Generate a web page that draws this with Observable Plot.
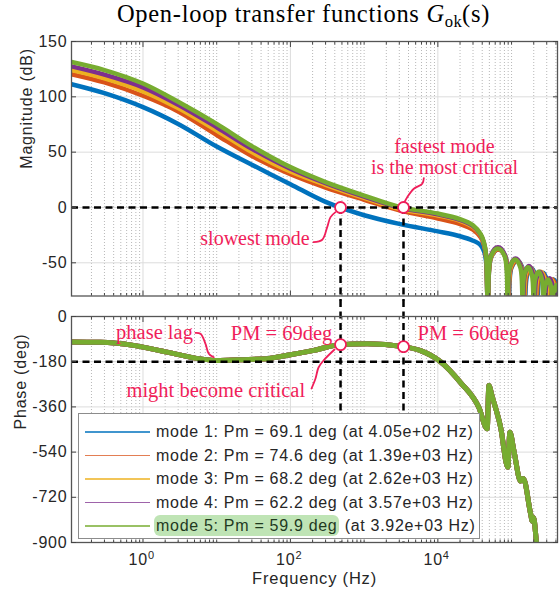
<!DOCTYPE html>
<html>
<head>
<meta charset="utf-8">
<script src="https://cdn.jsdelivr.net/npm/d3@7"></script>
<script src="https://cdn.jsdelivr.net/npm/@observablehq/plot@0.6"></script>
<style>
html,body{margin:0;padding:0;background:#fff;}
#wrap{position:relative;width:559px;height:597px;overflow:hidden;background:#fff;}
#title{position:absolute;top:0;left:303.5px;transform:translateX(-50%);white-space:nowrap;font-family:"Liberation Serif","Times New Roman",serif;font-size:24.5px;letter-spacing:0.7px;line-height:28px;color:#000;}
#title sub{font-size:0.68em;vertical-align:-0.28em;line-height:0;letter-spacing:0.3px;}
#top{position:absolute;top:30px;left:0;}
#bot{position:absolute;top:300px;left:0;}
svg text{letter-spacing:0.8px;}
svg g[font-family*="Serif"] text{letter-spacing:0;}
#legend{position:absolute;left:78px;top:413px;width:402px;height:126px;box-sizing:border-box;border:1px solid #8c8c8c;background:#fff;padding-top:6px;font-family:"Liberation Sans",Arial,sans-serif;font-size:16px;letter-spacing:0.7px;color:#262626;}
#legend .row{height:23.6px;line-height:23.6px;white-space:nowrap;position:relative;}
#legend .sw{position:absolute;left:6px;top:11px;width:65px;height:1.6px;opacity:0.75;}
#legend .lab{position:absolute;left:77px;top:0;}
#legend .hl{background:#bfe4b5;border-radius:6px;padding:2px 2px 2px 2px;margin-left:-2px;color:#1f3a1f;}
</style>
</head>
<body>
<div id="wrap">
  <div id="title">Open-loop transfer functions <i>G</i><sub>ok</sub>(s)</div>
  <div id="top"></div>
  <div id="bot"></div>
</div>
<script>
// ---------- axis configuration ----------
const xDomain = [0.1072, 420000];
const majorX = [1, 100, 10000];
const xLabelPowers = [0, 2, 4];
const magTicks = [-50, 0, 50, 100, 150];
const phaseTicks = [-900, -720, -540, -360, -180, 0];

// ---------- modes / legend ----------
const modeNames = ["mode 1", "mode 2", "mode 3", "mode 4", "mode 5"];
const modeColors = ["#0072BD", "#D95319", "#EDB120", "#7E2F8E", "#77AC30"];
const pmValues = [69.1, 74.6, 68.2, 62.2, 59.9];
const pmFreqLabels = ["4.05e+02", "1.39e+03", "2.62e+03", "3.57e+03", "3.92e+03"];

// ---------- magnitude (dB), main part ----------
const magFreq = [0.1072, 0.3, 1, 3, 10, 30, 100, 300, 1000, 3000, 10000, 20000, 30000, 38000, 42000, 45000, 47970];
const mag1 = [111.4, 103.3, 90.7, 75.5, 55.1, 38.6, 21, 5.0, -7.0, -14.8, -21.6, -26, -30, -34, -39, -48, -100];
const mag2 = [120.4, 113, 101, 86.8, 65.5, 46.5, 30, 18, 7, -2.5, -10, -15, -20, -27, -33.5, -44, -100];
const mag3 = [124.2, 116.8, 105, 89.8, 69.5, 50, 32.5, 20.5, 8.7, -1.2, -7.2, -12, -17.5, -25, -32, -43, -100];
const mag4 = [127.5, 120, 108.5, 92.8, 72.5, 53, 35, 22, 9.8, 0, -6.2, -11.2, -16.7, -24.5, -31.5, -42.5, -100];
const mag5 = [131.5, 124.2, 112, 95.5, 75.5, 55.5, 36.5, 23, 10.8, 0.6, -5.5, -10.5, -16, -24, -31, -42, -100];

// ---------- magnitude (dB), high-frequency lobes ----------
const lobeFreq1 = [52890, 66390, 83310, 91840, 99100, 118320, 141260, 152430, 161480, 184750, 211410, 223930, 236010, 266780, 301590, 317790, 333420, 372980, 417250, 437710];
const lobeMag1 = [-45, -38, -45, -100, -55, -48, -55, -100, -62, -55, -62, -100, -66, -59, -66, -100, -72, -65, -72, -100];
const lobeFreq2 = [52820, 66080, 82660, 90990, 98060, 116690, 138850, 149630, 158290, 180500, 205880, 217780, 229230, 258250, 291000, 306200, 320840, 357720, 398820, 417850, 435100];
const lobeMag2 = [-45, -38, -45, -100, -55, -48, -55, -100, -62, -55, -62, -100, -66, -59, -66, -100, -72, -65, -72, -100, -77];
const lobeFreq3 = [52740, 65780, 82010, 90150, 97000, 115070, 136490, 146880, 155160, 176380, 200530, 211810, 222600, 249990, 280800, 295060, 308690, 343090, 381300, 398930, 414810, 454370];
const lobeMag3 = [-44, -37, -44, -100, -54, -47, -54, -100, -61, -54, -61, -100, -65, -58, -65, -100, -72, -65, -72, -100, -77, -70];
const lobeFreq4 = [52660, 65440, 81290, 89230, 95870, 113300, 133910, 143880, 151760, 171880, 194700, 205340, 215480, 241130, 269850, 283130, 295770, 327520, 362680, 378890, 393340, 429280];
const lobeMag4 = [-43, -36, -43, -100, -53, -46, -53, -100, -60, -53, -60, -100, -65, -58, -65, -100, -71, -64, -71, -100, -76, -69];
const lobeFreq5 = [52580, 65100, 80580, 88310, 94730, 111560, 131370, 140930, 148420, 167490, 189050, 199070, 208580, 232550, 259300, 271640, 283330, 312610, 344910, 359750, 372900, 405510, 440960];
const lobeMag5 = [-44, -37, -44, -100, -54, -47, -54, -100, -61, -54, -61, -100, -65, -58, -65, -100, -72, -65, -72, -100, -77, -70, -77];

// ---------- phase (deg), common to all modes ----------
const phaseFreq = [0.1072, 0.265, 0.743, 2.136, 6.03, 10.16, 21.0, 48.4, 71, 207.7, 478.6, 1101, 3393, 5821, 10880, 20320, 35980, 46780, 49200, 54710, 70920, 89130, 94840, 107500, 132500, 144100, 181200, 191000, 199000, 218400, 300000];
const phaseDeg = [-102, -103, -115, -142, -169, -175, -172, -168, -160, -135, -112, -109, -120, -136, -180, -263, -362, -447, -275, -320, -440, -600, -461, -534, -655, -645, -785, -815, -800, -905, -1100];

// ---------- annotations ----------
const annColor = "#f01e5a";
const crossFreq = [478.6, 3420];
const crossPhase = [-112, -120];
const annTopText = ["slowest mode", "fastest mode", "is the most critical"];
const annTopF = [33.1, 12300, 12300];
const annTopV = [-28.0, 55.3, 36.4];
const annBotText = ["phase lag", "PM = 69deg", "PM = 60deg", "might become critical"];
const annBotF = [1.432, 75.7, 25850, 9.72];
const annBotV = [-62.5, -67.7, -67.7, -294.7];
const linkSlowF = [205.8, 270.1, 315.7, 350.0, 409.2];
const linkSlowV = [-31.4, -29.2, -17.8, -8.7, -4.2];
const linkFastF = [6457, 6143, 4725, 3843, 3565];
const linkFastV = [26.6, 21.4, 16.9, 9.3, 5.4];
const linkLagF = [5.156, 6.028, 7.047, 7.813, 9.135];
const linkLagV = [-64.9, -68.9, -108.7, -148.5, -162.1];
const linkCritF = [193.3, 219.0, 240.6, 281.2, 396.7];
const linkCritV = [-286.7, -246.9, -203.1, -175.2, -131.4];

// ---------- build tables ----------
const mags = [mag1, mag2, mag3, mag4, mag5];
const lobeFs = [lobeFreq1, lobeFreq2, lobeFreq3, lobeFreq4, lobeFreq5];
const lobeMs = [lobeMag1, lobeMag2, lobeMag3, lobeMag4, lobeMag5];
const magData = mags.map((m, i) =>
  magFreq.map((f, j) => ({f, v: m[j]})).concat(lobeFs[i].map((f, j) => ({f, v: lobeMs[i][j]}))));
const phaseData = phaseFreq.map((f, j) => ({f, v: phaseDeg[j]}));
const pts = (F, V) => F.map((f, i) => ({f, v: V[i]}));

const minorX = [];
for (let k = -1; k <= 5; k++) for (let m = 1; m <= 9; m++) {
  const v = m * 10 ** k;
  if (v >= xDomain[0] && v <= xDomain[1] && !majorX.includes(v)) minorX.push(v);
}

const sansFont = "Liberation Sans, Arial, sans-serif";
const serifFont = "Liberation Serif, Times New Roman, serif";
const dash = {stroke: "#000", strokeWidth: 2.5, strokeDasharray: "7,4.5"};
const tickStroke = "#444";
const baseStyle = {fontFamily: sansFont, fontSize: "16px", color: "#262626", background: "transparent", overflow: "visible"};

function frameMarks(yTicks) {
  return [
    Plot.frame({stroke: "#555", strokeWidth: 1.3}),
    Plot.axisY(yTicks, {anchor: "left", tickSize: 0, tickPadding: 4, label: null, tickFormat: d => String(d)}),
    Plot.axisY(yTicks, {anchor: "left", tickSize: 5, dx: 5, tickFormat: () => "", label: null, stroke: tickStroke}),
    Plot.axisY(yTicks, {anchor: "right", tickSize: 5, dx: -5, tickFormat: () => "", label: null, stroke: tickStroke}),
    Plot.axisX(majorX, {anchor: "bottom", tickSize: 5, dy: -5, tickFormat: () => "", label: null, stroke: tickStroke}),
    Plot.axisX(majorX, {anchor: "top", tickSize: 5, dy: 5, tickFormat: () => "", label: null, stroke: tickStroke}),
    Plot.axisX(minorX, {anchor: "bottom", tickSize: 2.5, dy: -2.5, tickFormat: () => "", label: null, stroke: tickStroke}),
    Plot.axisX(minorX, {anchor: "top", tickSize: 2.5, dy: 2.5, tickFormat: () => "", label: null, stroke: tickStroke})
  ];
}
function gridMarks(yTicks) {
  return [
    Plot.gridX(minorX, {stroke: "#b8b8b8", strokeOpacity: 1, strokeDasharray: "1,2"}),
    Plot.gridX(majorX, {stroke: "#dcdcdc", strokeOpacity: 1}),
    Plot.gridY(yTicks, {stroke: "#dcdcdc", strokeOpacity: 1})
  ];
}

// ---------- top: magnitude ----------
const topPlot = Plot.plot({
  width: 559, height: 270,
  marginLeft: 71, marginRight: 2, marginTop: 11, marginBottom: 4.5,
  x: {type: "log", domain: xDomain},
  y: {domain: [-80, 150]},
  style: baseStyle,
  marks: [
    ...gridMarks(magTicks),
    ...magData.map((d, i) => Plot.line(d, {x: "f", y: "v", stroke: modeColors[i], strokeWidth: 4.5, curve: "catmull-rom", clip: true})),
    Plot.ruleY([0], dash),
    Plot.ruleX(crossFreq, {x: d => d, y1: 0, y2: -84.5, ...dash}),
    Plot.line(pts(linkSlowF, linkSlowV), {x: "f", y: "v", curve: "catmull-rom", stroke: annColor, strokeWidth: 1.8}),
    Plot.line(pts(linkFastF, linkFastV), {x: "f", y: "v", curve: "catmull-rom", stroke: annColor, strokeWidth: 1.8}),
    Plot.dot(crossFreq, {x: d => d, y: 0, r: 5.5, fill: "white", stroke: annColor, strokeWidth: 1.8}),
    Plot.text(annTopText, {x: (d, i) => annTopF[i], y: (d, i) => annTopV[i], text: d => d, fill: annColor, fontFamily: serifFont, fontSize: 20}),
    ...frameMarks(magTicks),
    Plot.text(["Magnitude (dB)"], {frameAnchor: "left", dx: -45, rotate: -90, text: d => d, fontSize: 16})
  ]
});
document.getElementById("top").appendChild(topPlot);

// ---------- bottom: phase ----------
const botPlot = Plot.plot({
  width: 559, height: 297,
  marginLeft: 71, marginRight: 2, marginTop: 16, marginBottom: 55,
  x: {type: "log", domain: xDomain},
  y: {domain: [-900, 0]},
  style: baseStyle,
  marks: [
    ...gridMarks(phaseTicks),
    ...modeColors.map(c => Plot.line(phaseData, {x: "f", y: "v", stroke: c, strokeWidth: 5, curve: "monotone-x", clip: true})),
    Plot.ruleY([-180], dash),
    Plot.ruleX(crossFreq, {x: d => d, y1: 64, y2: -900, ...dash}),
    Plot.line(pts(linkLagF, linkLagV), {x: "f", y: "v", curve: "catmull-rom", stroke: annColor, strokeWidth: 1.8}),
    Plot.line(pts(linkCritF, linkCritV), {x: "f", y: "v", curve: "catmull-rom", stroke: annColor, strokeWidth: 1.8}),
    Plot.dot(crossFreq, {x: d => d, y: (d, i) => crossPhase[i], r: 5.5, fill: "white", stroke: annColor, strokeWidth: 1.8}),
    Plot.text(annBotText, {x: (d, i) => annBotF[i], y: (d, i) => annBotV[i], text: d => d, fill: annColor, fontFamily: serifFont, fontSize: 20.5}),
    ...frameMarks(phaseTicks),
    Plot.text(xLabelPowers, {x: d => 10 ** d, text: () => "10", frameAnchor: "bottom", dy: 22, dx: 5, textAnchor: "end", fontSize: 16}),
    Plot.text(xLabelPowers, {x: d => 10 ** d, text: d => String(d), frameAnchor: "bottom", dy: 16, dx: 5, textAnchor: "start", fontSize: 11}),
    Plot.text(["Frequency (Hz)"], {frameAnchor: "bottom", dy: 41, text: d => d, fontSize: 16.5}),
    Plot.text(["Phase (deg)"], {frameAnchor: "left", dx: -51, rotate: -90, text: d => d, fontSize: 16})
  ]
});
document.getElementById("bot").appendChild(botPlot);

// ---------- legend ----------
const legend = document.createElement("div");
legend.id = "legend";
modeNames.forEach((name, i) => {
  const row = document.createElement("div");
  row.className = "row";
  const sw = document.createElement("span");
  sw.className = "sw";
  sw.style.background = modeColors[i];
  const lab = document.createElement("span");
  lab.className = "lab";
  const main = `${name}: Pm = ${pmValues[i].toFixed(1)} deg`;
  const rest = ` (at ${pmFreqLabels[i]} Hz)`;
  lab.innerHTML = (i === modeNames.length - 1 ? `<span class="hl">${main}</span>` : main) + rest;
  row.appendChild(sw);
  row.appendChild(lab);
  legend.appendChild(row);
});
document.getElementById("wrap").appendChild(legend);
</script>
</body>
</html>
